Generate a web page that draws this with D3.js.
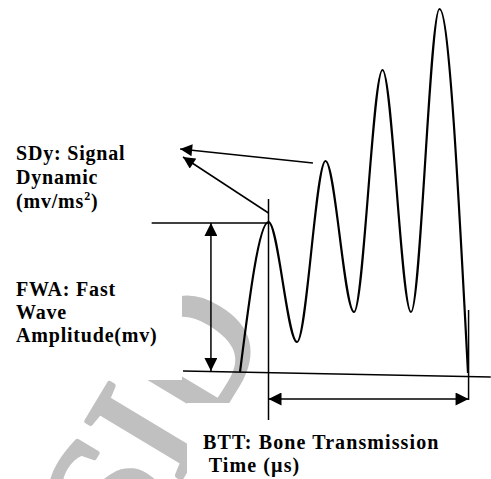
<!DOCTYPE html>
<html>
<head>
<meta charset="utf-8">
<script src="https://cdn.jsdelivr.net/npm/d3@7"></script>
<style>
  body { margin: 0; background: #fff; }
</style>
</head>
<body>
<div id="container"><svg></svg></div>
<script>
const width = 491, height = 479;
const serif = "'Liberation Serif', 'Times New Roman', Times, serif";

// waveform extrema: time (half periods) and amplitude (mv)
const waveTime = [0, 1, 2, 3, 4, 5, 6, 7, 8];
const waveAmp = [0, 1.5, 0.3, 2.11, 0.6, 3.02, 0.6, 3.63, -0.01];

// annotation geometry in the same units [t, amp]
const baseLine = [[-2, 0.01], [8.8, -0.05]];
const fwaLevel = [[-3.1, 1.49], [1, 1.49]];
const fwaArrow = [[-1.02, 1.49], [-1.02, 0.01]];
const peakMarker = [[1, 1.73], [1, -0.48]];
const endMarker = [[8.02, 0.62], [8.02, -0.28]];
const bttArrow = [[1, -0.27], [8.02, -0.27]];
const sdyArrows = [
  [[2.56, 2.09], [-2.1, 2.23]],
  [[1.0, 1.59], [-2.0, 2.15]]
];

const sdyLabel = ["SDy: Signal", "Dynamic", "(mv/ms"];
const fwaLabel = ["FWA: Fast", "Wave", "Amplitude(mv)"];
const bttLabel = ["BTT: Bone Transmission", " Time (\u00b5s)"];
const watermark = "SID";

const x = d3.scaleLinear().domain([0, 8]).range([240, 468]);
const y = d3.scaleLinear().domain([0, 3.63]).range([372, 9]);

const svg = d3.select('#container').select('svg')
    .attr('width', width)
    .attr('height', height);

// arrow heads
const defs = svg.append('defs');
defs.append('marker')
    .attr('id', 'head')
    .attr('viewBox', '0 0 10 10')
    .attr('refX', 10).attr('refY', 5)
    .attr('markerUnits', 'userSpaceOnUse')
    .attr('markerWidth', 15).attr('markerHeight', 13)
    .attr('orient', 'auto-start-reverse')
    .append('path').attr('d', 'M0,0L10,5L0,10Z').attr('fill', '#000');
defs.append('marker')
    .attr('id', 'headS')
    .attr('viewBox', '0 0 10 10')
    .attr('refX', 10).attr('refY', 5)
    .attr('markerUnits', 'userSpaceOnUse')
    .attr('markerWidth', 13).attr('markerHeight', 12)
    .attr('orient', 'auto')
    .append('path').attr('d', 'M0,0L10,5L0,10Z').attr('fill', '#000');

// watermark
svg.append('text')
    .attr('transform', 'translate(130,563) rotate(-59)')
    .attr('font-family', serif)
    .attr('font-size', 168)
    .attr('fill', '#c0c0c0')
    .attr('stroke', '#c0c0c0')
    .attr('stroke-width', 5)
    .attr('stroke-linejoin', 'round')
    .text(watermark);

// white text boxes lying over the watermark
const boxes = [[8, 140, 130, 82], [8, 270, 174, 110], [187, 403, 290, 76]];
svg.append('g').selectAll('rect')
    .data(boxes)
    .join('rect')
    .attr('x', d => d[0]).attr('y', d => d[1])
    .attr('width', d => d[2]).attr('height', d => d[3])
    .attr('fill', '#fff');

const seg = d3.line().x(d => x(d[0])).y(d => y(d[1]));

const g = svg.append('g')
    .attr('stroke', '#000')
    .attr('stroke-width', 1.5)
    .attr('fill', 'none');

g.append('path').attr('d', seg(baseLine));
g.append('path').attr('d', seg(fwaLevel));
g.append('path').attr('d', seg(peakMarker));
g.append('path').attr('d', seg(endMarker));
g.append('path').attr('d', seg(fwaArrow))
    .attr('marker-start', 'url(#head)').attr('marker-end', 'url(#head)');
g.append('path').attr('d', seg(bttArrow))
    .attr('marker-start', 'url(#head)').attr('marker-end', 'url(#head)');
g.selectAll('.sdy')
    .data(sdyArrows)
    .join('path')
    .attr('class', 'sdy')
    .attr('d', seg)
    .attr('marker-end', 'url(#headS)');

// the signal
const wave = d3.line()
    .x((d, i) => x(waveTime[i]))
    .y(d => y(d))
    .curve(d3.curveMonotoneX);
svg.append('path')
    .attr('d', wave(waveAmp))
    .attr('fill', 'none')
    .attr('stroke', '#000')
    .attr('stroke-width', 2.2);

// labels
function block(lines, x0, y0, dy, ls) {
  const t = svg.append('text')
      .attr('font-family', serif)
      .attr('font-weight', 'bold')
      .attr('font-size', 20)
      .attr('letter-spacing', ls)
      .attr('fill', '#000');
  lines.forEach((s, i) => {
    t.append('tspan').attr('x', x0).attr('y', y0 + i * dy)
      .attr('xml:space', 'preserve').text(s);
  });
  return t;
}
const sdyText = block(sdyLabel, 16, 160, 24, 0.8);
sdyText.append('tspan').attr('font-size', 12).attr('dy', -8).text('2');
sdyText.append('tspan').attr('dy', 8).text(')');
block(fwaLabel, 16, 296, 23, 0.8);
block(bttLabel, 203, 449, 23, 1.1);
</script>
</body>
</html>
